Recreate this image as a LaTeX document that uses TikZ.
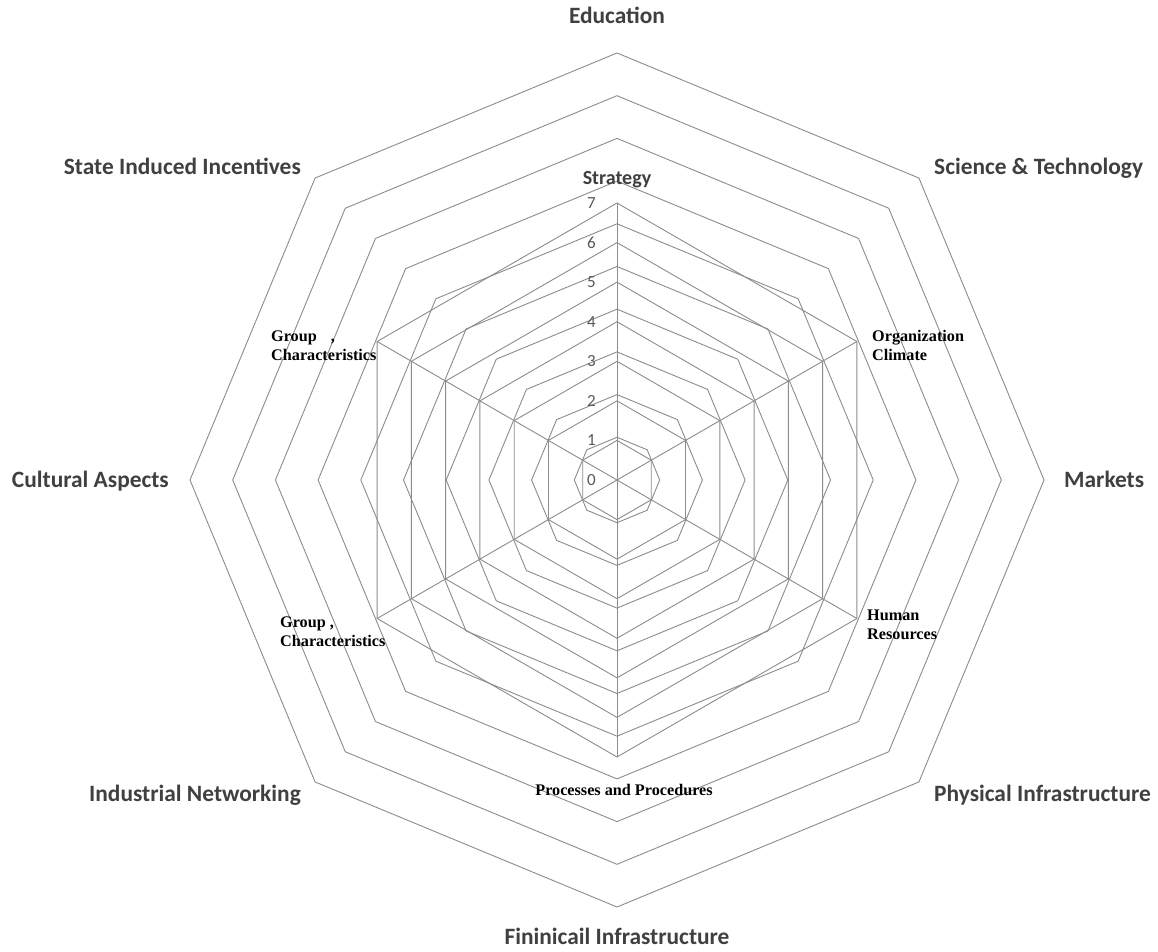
\documentclass[tikz,border=0pt]{standalone}
\usepackage{fontspec}
\setmainfont{Liberation Serif}
\newfontfamily\calib{Carlito}
\definecolor{gridgray}{HTML}{8C8C8C}
\definecolor{labelgray}{HTML}{404040}
\definecolor{tickgray}{HTML}{595959}
\begin{document}
\begin{tikzpicture}[x=1pt,y=1pt,
  gridline/.style={draw=gridgray, line width=0.9pt, line join=miter},
  outerlabel/.style={font=\calib\bfseries\fontsize{23.4}{27}\selectfont, text=labelgray, inner sep=0pt},
  ticklabel/.style={font=\calib\fontsize{17}{19}\selectfont, text=tickgray, inner sep=0pt, anchor=east},
  axistitle/.style={font=\calib\bfseries\fontsize{20}{22}\selectfont, text=labelgray, inner sep=0pt},
  innerlabel/.style={font=\bfseries\fontsize{16.2}{19}\selectfont, inner sep=0pt, align=left}]
\useasboundingbox (0,0) rectangle (1158,951);
\fill[white] (0,0) rectangle (1158,951);

\begin{scope}[shift={(617,471)}]
  % octagonal grid of the outer chart
  \foreach \k in {1,...,10}{
    \pgfmathsetmacro\r{42.7*\k}
    \draw[gridline] (90:\r) -- (45:\r) -- (0:\r) -- (-45:\r) -- (-90:\r)
      -- (-135:\r) -- (180:\r) -- (135:\r) -- cycle;
  }
  % hexagonal grid of the inner chart, levels 1 to 7
  \foreach \k in {1,...,7}{
    \pgfmathsetmacro\r{39.57*\k}
    \draw[gridline] (90:\r) -- (30:\r) -- (-30:\r) -- (-90:\r)
      -- (-150:\r) -- (150:\r) -- cycle;
  }
  % spokes of the inner chart
  \coordinate (O) at (0,0);
  \foreach \a/\n in {90/st,30/oc,-30/hr,-90/pp,-150/gl,150/gu}
    \coordinate (\n) at (\a:277);
  \foreach \n in {st,oc,hr,pp,gl,gu}
    \draw[gridline] (O) -- (\n);
  % value axis numbers
  \foreach \k in {0,...,7}
    \node[ticklabel] (t\k) at (-21,{39.57*\k}) {\k};
\end{scope}

% inner chart categories
\node[axistitle] (strategy) at (617,771) {Strategy};
\node[innerlabel, anchor=west] (orgclim) at (872,606) {Organization\\Climate};
\node[innerlabel, anchor=west] (humres) at (867,326) {Human\\Resources};
\node[innerlabel] (procs) at (624,161) {Processes and Procedures};
\node[innerlabel, anchor=west] (grpup) at (271,605) {Group\hspace{14pt},\\Characteristics};
\node[innerlabel, anchor=west] (grplow) at (280,319) {Group ,\\Characteristics};

% outer chart categories
\node[outerlabel, anchor=base] (edu) at (617,927) {Education};
\node[outerlabel, anchor=base west] (scitech) at (934,776.5) {Science \& Technology};
\node[outerlabel, anchor=base west] (markets) at (1064,463.5) {Markets};
\node[outerlabel, anchor=base west] (physinf) at (934,150) {Physical Infrastructure};
\node[outerlabel, anchor=base] (fininf) at (617,7) {Fininicail Infrastructure};
\node[outerlabel, anchor=base east] (indnet) at (301,150) {Industrial Networking};
\node[outerlabel, anchor=base east] (cultural) at (169,463.5) {Cultural Aspects};
\node[outerlabel, anchor=base east] (state) at (301,776.5) {State Induced Incentives};
\end{tikzpicture}
\end{document}
